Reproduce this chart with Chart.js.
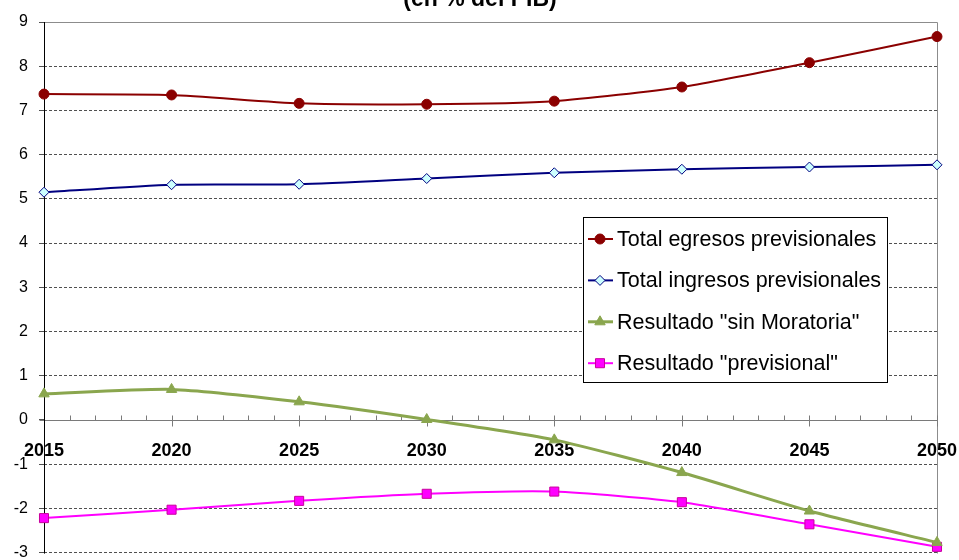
<!DOCTYPE html>
<html>
<head>
<meta charset="utf-8">
<script src="https://cdn.jsdelivr.net/npm/chart.js@4.4.0/dist/chart.umd.min.js"></script>
<style>
  html, body { margin: 0; padding: 0; background: #ffffff; }
  canvas { display: block; }
</style>
</head>
<body>
<canvas id="chart" width="959" height="560"></canvas>
<script>
// Proyección de egresos, ingresos y resultados previsionales (en % del PIB)
const years = [2015, 2020, 2025, 2030, 2035, 2040, 2045, 2050];
const egresos = [7.37, 7.35, 7.16, 7.14, 7.21, 7.53, 8.08, 8.67];
const ingresos = [5.15, 5.32, 5.33, 5.46, 5.59, 5.67, 5.72, 5.77];
const sinMoratoria = [0.59, 0.69, 0.41, 0.01, -0.45, -1.19, -2.06, -2.77];
const previsional = [-2.22, -2.03, -1.83, -1.67, -1.62, -1.86, -2.36, -2.87];

const seriesLabels = [
  'Total egresos previsionales',
  'Total ingresos previsionales',
  'Resultado "sin Moratoria"',
  'Resultado "previsional"'
];
const titleText = '(en % del PIB)';
const yMin = -3, yMax = 9;

const FONT = '"Liberation Sans", Arial, Helvetica, sans-serif';

const toPoints = vals => years.map((yr, i) => ({ x: yr, y: vals[i] }));

const px = v => Math.round(v) + 0.5;

// Axis lines, plot border and the year tick marks on the zero line
const axesPlugin = {
  id: 'axesLines',
  beforeDatasetsDraw(chart) {
    const { ctx, chartArea: a, scales: { x, y } } = chart;
    const y0 = px(y.getPixelForValue(0));
    ctx.save();
    ctx.setLineDash([]);
    ctx.lineWidth = 1;

    // top and right border of the plot area
    ctx.strokeStyle = '#8c8c8c';
    ctx.beginPath();
    ctx.moveTo(px(a.left), px(a.top));
    ctx.lineTo(px(a.right), px(a.top));
    ctx.lineTo(px(a.right), px(a.bottom));
    ctx.stroke();

    // horizontal axis through zero
    ctx.strokeStyle = '#7a7a7a';
    ctx.beginPath();
    ctx.moveTo(px(a.left) - 5, y0);
    ctx.lineTo(px(a.right), y0);
    ctx.stroke();

    // yearly minor ticks and 5-year major ticks
    ctx.beginPath();
    for (let yr = x.min; yr <= x.max; yr++) {
      const xp = px(x.getPixelForValue(yr));
      if (yr % 5 === 0) {
        ctx.moveTo(xp, y0 - 5);
        ctx.lineTo(xp, y0 + 6);
      } else {
        ctx.moveTo(xp, y0 - 5);
        ctx.lineTo(xp, y0);
      }
    }
    ctx.stroke();

    // vertical axis
    ctx.strokeStyle = '#000000';
    ctx.beginPath();
    ctx.moveTo(px(a.left), a.top);
    ctx.lineTo(px(a.left), a.bottom + 1);
    ctx.stroke();
    ctx.restore();
  }
};

// Boxed legend inside the plot area, line sample with marker
const legendPlugin = {
  id: 'boxLegend',
  afterDatasetsDraw(chart) {
    const { ctx } = chart;
    const box = { left: 583, top: 217, right: 887, bottom: 382 };
    ctx.save();
    ctx.setLineDash([]);
    ctx.fillStyle = '#ffffff';
    ctx.fillRect(box.left, box.top, box.right - box.left, box.bottom - box.top);
    ctx.strokeStyle = '#000000';
    ctx.lineWidth = 1;
    ctx.strokeRect(box.left + 0.5, box.top + 0.5, box.right - box.left, box.bottom - box.top);

    ctx.font = '21.5px ' + FONT;
    ctx.textBaseline = 'middle';
    ctx.textAlign = 'left';
    chart.data.datasets.forEach((ds, i) => {
      const ry = box.top + 22 + i * 41.4;
      ctx.strokeStyle = ds.borderColor;
      ctx.lineWidth = ds.borderWidth;
      ctx.beginPath();
      ctx.moveTo(box.left + 5, ry);
      ctx.lineTo(box.left + 30, ry);
      ctx.stroke();
      ctx.fillStyle = ds.pointBackgroundColor;
      ctx.strokeStyle = ds.pointBorderColor;
      ctx.lineWidth = ds.pointBorderWidth;
      Chart.helpers.drawPoint(ctx, {
        pointStyle: ds.pointStyle,
        radius: ds.pointRadius,
        rotation: 0,
        borderWidth: ds.pointBorderWidth
      }, box.left + 17, ry);
      ctx.fillStyle = '#000000';
      ctx.fillText(ds.label, box.left + 34, ry + 1);
    });
    ctx.restore();
  }
};

// Chart heading, partly above the canvas edge
const titlePlugin = {
  id: 'topTitle',
  afterDraw(chart) {
    const { ctx } = chart;
    ctx.save();
    ctx.font = 'bold 23px ' + FONT;
    ctx.fillStyle = '#000000';
    ctx.textAlign = 'center';
    ctx.textBaseline = 'alphabetic';
    ctx.fillText(titleText, 480, 6);
    ctx.restore();
  }
};

const baseDataset = {
  fill: false,
  tension: 0.2,
  clip: false,
  pointHoverRadius: 0
};

new Chart(document.getElementById('chart'), {
  type: 'line',
  data: {
    datasets: [
      Object.assign({}, baseDataset, {
        label: seriesLabels[0],
        data: toPoints(egresos),
        borderColor: '#8b0000',
        borderWidth: 2,
        pointStyle: 'circle',
        pointRadius: 5,
        pointBackgroundColor: '#8b0000',
        pointBorderColor: '#8b0000',
        pointBorderWidth: 1
      }),
      Object.assign({}, baseDataset, {
        label: seriesLabels[1],
        data: toPoints(ingresos),
        borderColor: '#000080',
        borderWidth: 2,
        pointStyle: 'rectRot',
        pointRadius: 5,
        pointBackgroundColor: '#ccffff',
        pointBorderColor: '#000080',
        pointBorderWidth: 1
      }),
      Object.assign({}, baseDataset, {
        label: seriesLabels[2],
        data: toPoints(sinMoratoria),
        borderColor: '#8aa64e',
        borderWidth: 3,
        pointStyle: 'triangle',
        pointRadius: 6,
        pointBackgroundColor: '#8aa64e',
        pointBorderColor: '#8aa64e',
        pointBorderWidth: 1
      }),
      Object.assign({}, baseDataset, {
        label: seriesLabels[3],
        data: toPoints(previsional),
        borderColor: '#ff00ff',
        borderWidth: 2,
        pointStyle: 'rect',
        pointRadius: 6.4,
        pointBackgroundColor: '#ff00ff',
        pointBorderColor: '#c8009c',
        pointBorderWidth: 1
      })
    ]
  },
  options: {
    responsive: false,
    animation: false,
    events: [],
    layout: { padding: { left: 0, right: 22, top: 22, bottom: 7 } },
    plugins: {
      legend: { display: false },
      tooltip: { enabled: false },
      title: { display: false }
    },
    scales: {
      x: {
        type: 'linear',
        position: { y: 0 },
        min: years[0],
        max: years[years.length - 1],
        afterFit(scale) {
          scale.paddingLeft = 0;
          scale.paddingRight = 0;
        },
        grid: { display: false },
        border: { display: false },
        ticks: {
          stepSize: 5,
          padding: 12,
          color: '#000000',
          font: { family: FONT, size: 18, weight: 'bold' },
          maxRotation: 0,
          autoSkip: false,
          callback: v => String(v)
        }
      },
      y: {
        type: 'linear',
        min: yMin,
        max: yMax,
        afterFit(scale) {
          scale.width = 44;
          scale.paddingTop = 0;
          scale.paddingBottom = 0;
        },
        grid: {
          color: ctx => (ctx.tick && (ctx.tick.value === 0 || ctx.tick.value === yMax)) ? 'rgba(0,0,0,0)' : '#505050',
          lineWidth: 1,
          drawTicks: true,
          tickLength: 5,
          tickColor: '#505050'
        },
        border: { display: false, dash: [3, 2] },
        ticks: {
          stepSize: 1,
          padding: 11,
          color: '#000000',
          font: { family: FONT, size: 16 }
        }
      }
    }
  },
  plugins: [axesPlugin, legendPlugin, titlePlugin]
});
</script>
</body>
</html>
